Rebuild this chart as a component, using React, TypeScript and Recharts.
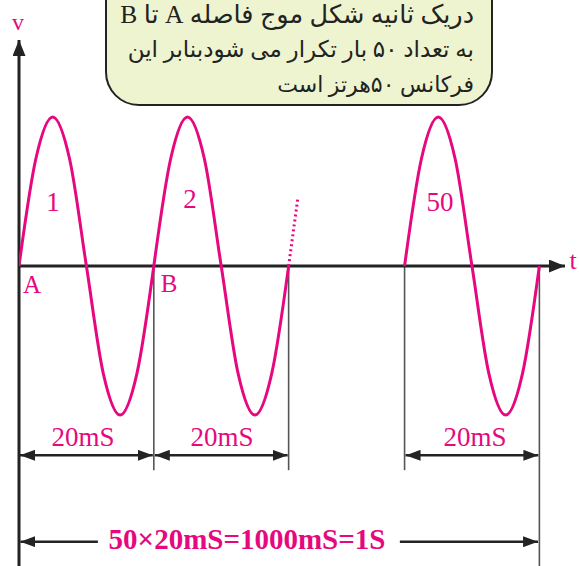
import { LineChart, Line, XAxis, YAxis, ReferenceLine } from "recharts";

// زمان (ms در مقیاس شکل) و ولتاژ نرمال شده برای هر سیکل
const cycle1 = [
  { t: 0, v: 0 },
  { t: 2.5, v: 0.72 },
  { t: 5, v: 1 },
  { t: 7.5, v: 0.72 },
  { t: 10, v: 0 },
  { t: 12.5, v: -0.72 },
  { t: 15, v: -1 },
  { t: 17.5, v: -0.72 },
  { t: 20, v: 0 },
];

const cycle2 = [
  { t: 20, v: 0 },
  { t: 22.5, v: 0.72 },
  { t: 25, v: 1 },
  { t: 27.5, v: 0.72 },
  { t: 30, v: 0 },
  { t: 32.5, v: -0.72 },
  { t: 35, v: -1 },
  { t: 37.5, v: -0.72 },
  { t: 40, v: 0 },
];

const dotted = [
  { t: 40, v: 0 },
  { t: 41.35, v: 0.45 },
];

const cycle50 = [
  { t: 57.2, v: 0 },
  { t: 59.7, v: 0.72 },
  { t: 62.2, v: 1 },
  { t: 64.7, v: 0.72 },
  { t: 67.2, v: 0 },
  { t: 69.7, v: -0.72 },
  { t: 72.2, v: -1 },
  { t: 74.7, v: -0.72 },
  { t: 77.2, v: 0 },
];

const boundaries = [20, 40, 57.2];
const periodSpans = [
  [0, 20],
  [20, 40],
  [57.2, 77.2],
];

const noteLines = [
  "دریک ثانیه شکل موج فاصله A تا B",
  "به تعداد ۵۰ بار تکرار می شودبنابر این",
  "فرکانس ۵۰هرتز است",
];

const PINK = "#e6087f";
const DARK = "#232323";
const SERIF = "'Liberation Serif', 'Times New Roman', 'DejaVu Serif', serif";

const label = (x: number, y: number, size: number, text: string, bold = false) => (
  <div
    style={{
      position: "absolute",
      left: x,
      top: y,
      transform: "translate(-50%, -50%)",
      fontFamily: SERIF,
      fontSize: size,
      fontWeight: bold ? 700 : 400,
      color: PINK,
      whiteSpace: "nowrap",
      lineHeight: 1,
    }}
  >
    {text}
  </div>
);

export default function App() {
  const lineSizes = [25.5, 23, 22];
  return (
    <div style={{ position: "absolute", left: 0, top: 0, width: 580, height: 566, background: "#fff", overflow: "hidden" }}>
      <svg width={0} height={0} style={{ position: "absolute" }}>
        <defs>
          <marker id="axisArrow" markerUnits="userSpaceOnUse" markerWidth={16} markerHeight={13} refX={16} refY={6.5} orient="auto-start-reverse">
            <path d="M0,0 L16,6.5 L0,13 z" fill={DARK} />
          </marker>
          <marker id="dimArrow" markerUnits="userSpaceOnUse" markerWidth={15} markerHeight={11} refX={15} refY={5.5} orient="auto-start-reverse">
            <path d="M0,0 L15,5.5 L0,11 z" fill={DARK} />
          </marker>
        </defs>
      </svg>

      <LineChart width={580} height={566} margin={{ top: 40, right: 15, bottom: 0, left: 19 }}>
        <XAxis type="number" dataKey="t" domain={[0, 81]} hide allowDataOverflow />
        <YAxis type="number" domain={[-2.013, 1.517]} hide allowDataOverflow />

        {/* خطوط راهنمای عمودی */}
        {boundaries.map((b) => (
          <ReferenceLine
            key={b}
            segment={[{ x: b, y: 0 }, { x: b, y: -1.37 }]}
            stroke="#555"
            strokeWidth={1.6}
            ifOverflow="visible"
          />
        ))}
        <ReferenceLine segment={[{ x: 77.2, y: 0 }, { x: 77.2, y: -2.013 }]} stroke="#555" strokeWidth={1.6} ifOverflow="visible" />

        {/* محورها */}
        <ReferenceLine
          segment={[{ x: 0, y: -2.013 }, { x: 0, y: 1.517 }]}
          stroke={DARK}
          strokeWidth={3}
          markerEnd="url(#axisArrow)"
          ifOverflow="visible"
        />
        <ReferenceLine
          segment={[{ x: 0, y: 0 }, { x: 81, y: 0 }]}
          stroke={DARK}
          strokeWidth={3}
          markerEnd="url(#axisArrow)"
          ifOverflow="visible"
        />

        {/* فلش های دوره تناوب */}
        {periodSpans.map(([a, b]) => (
          <ReferenceLine
            key={a}
            segment={[{ x: a + 0.15, y: -1.27 }, { x: b - 0.15, y: -1.27 }]}
            stroke={DARK}
            strokeWidth={2.6}
            markerStart="url(#dimArrow)"
            markerEnd="url(#dimArrow)"
            ifOverflow="visible"
          />
        ))}
        <ReferenceLine
          segment={[{ x: 0.2, y: -1.85 }, { x: 11.7, y: -1.85 }]}
          stroke={DARK}
          strokeWidth={2.6}
          markerStart="url(#dimArrow)"
          ifOverflow="visible"
        />
        <ReferenceLine
          segment={[{ x: 56.5, y: -1.85 }, { x: 77.0, y: -1.85 }]}
          stroke={DARK}
          strokeWidth={2.6}
          markerEnd="url(#dimArrow)"
          ifOverflow="visible"
        />

        <Line data={cycle1} dataKey="v" type="monotone" stroke={PINK} strokeWidth={3} dot={false} activeDot={false} isAnimationActive={false} />
        <Line data={cycle2} dataKey="v" type="monotone" stroke={PINK} strokeWidth={3} dot={false} activeDot={false} isAnimationActive={false} />
        <Line data={dotted} dataKey="v" type="linear" stroke={PINK} strokeWidth={3} strokeDasharray="2 3" dot={false} activeDot={false} isAnimationActive={false} />
        <Line data={cycle50} dataKey="v" type="monotone" stroke={PINK} strokeWidth={3} dot={false} activeDot={false} isAnimationActive={false} />
      </LineChart>

      {/* کادر توضیح */}
      <div
        style={{
          position: "absolute",
          left: 105,
          top: -34,
          width: 388,
          height: 140,
          boxSizing: "border-box",
          border: `2.5px solid ${DARK}`,
          borderRadius: 34,
          background: "#eef4cf",
        }}
      />
      <div
        dir="rtl"
        style={{
          position: "absolute",
          left: 110,
          top: -3,
          width: 364,
          textAlign: "right",
          fontFamily: "'Liberation Serif', 'DejaVu Sans', serif",
          lineHeight: "35px",
          color: "#222",
          whiteSpace: "nowrap",
        }}
      >
        {noteLines.map((l, i) => (
          <div key={i} style={{ fontSize: lineSizes[i] }}>
            {l}
          </div>
        ))}
      </div>

      {label(18, 22, 24, "v")}
      {label(573, 261, 26, "t")}
      {label(32, 284, 25, "A")}
      {label(169, 283, 25, "B")}
      {label(53, 202, 27, "1")}
      {label(190, 199, 27, "2")}
      {label(440, 202, 27, "50")}
      {label(83, 437, 27, "20mS")}
      {label(222, 437, 27, "20mS")}
      {label(475, 437, 27, "20mS")}
      {label(247, 539, 29, "50×20mS=1000mS=1S", true)}
    </div>
  );
}
